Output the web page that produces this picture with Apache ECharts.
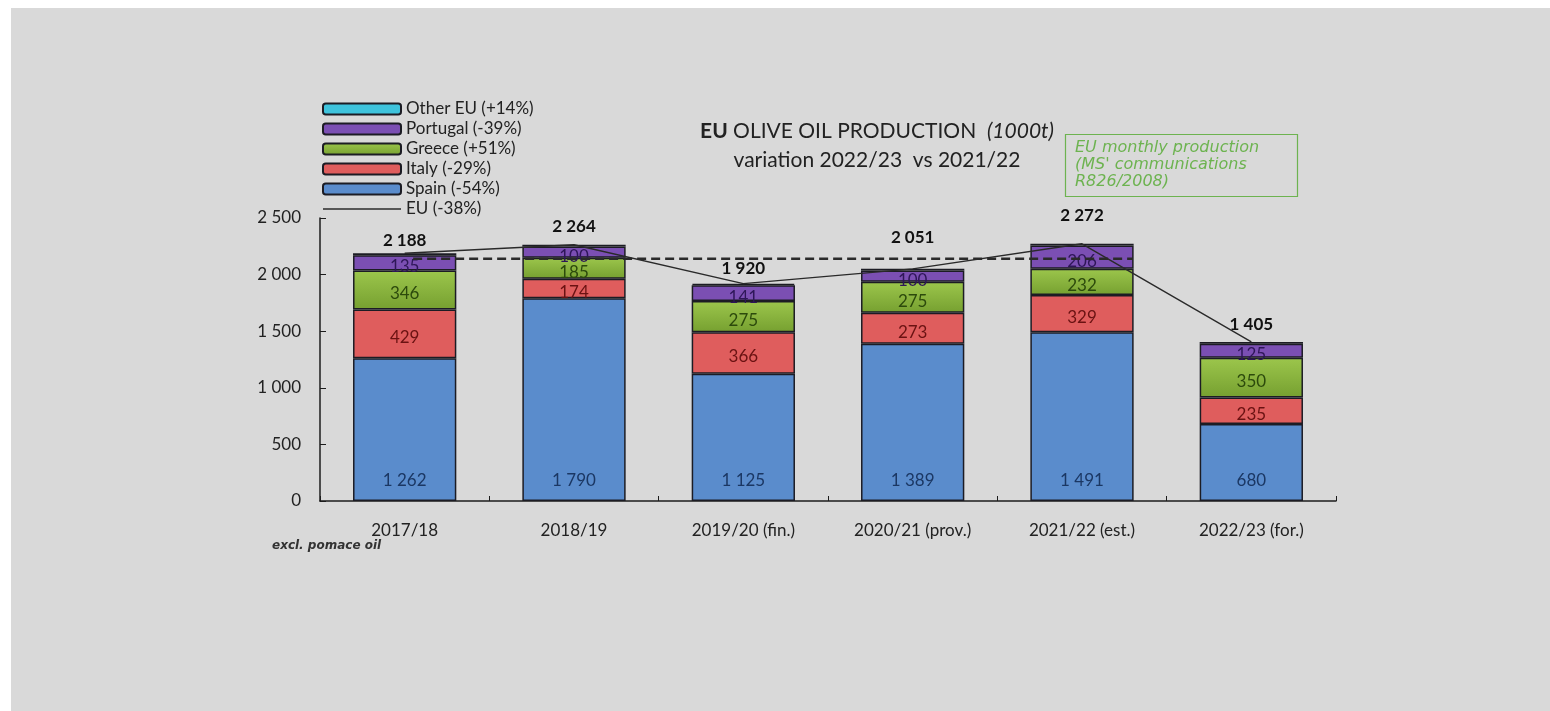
<!DOCTYPE html>
<html>
<head>
<meta charset="utf-8">
<style>
  html, body { margin: 0; padding: 0; background: #ffffff; }
  #chart { width: 1550px; height: 711px; }
</style>
<script src="https://cdn.jsdelivr.net/npm/echarts@6/dist/echarts.min.js"></script>
</head>
<body>
<div id="chart"></div>
<script>
// campaigns on the x axis
var categories = ["2017/18", "2018/19", "2019/20 (fin.)", "2020/21 (prov.)", "2021/22 (est.)", "2022/23 (for.)"];
// 1000t per country
var spain = [1262, 1790, 1125, 1389, 1491, 680];
var italy = [429, 174, 366, 273, 329, 235];
var greece = [346, 185, 275, 275, 232, 350];
var portugal = [135, 100, 141, 100, 206, 125];
var otherEU = [16, 15, 13, 14, 14, 15];
var euTotal = [2188, 2264, 1920, 2051, 2272, 1405];
// dashed reference level (average of the previous five campaigns)
var avgLevel = 2139;
var yTicks = [0, 500, 1000, 1500, 2000, 2500];

var FONT = "Lato";

function fmt(v) {
  return String(v).replace(/\B(?=(\d{3})+(?!\d))/g, " ");
}

// how far each total label sits above its bar (px)
var totalLift = [4, 10, 7, 23, 20, 9];

var myChart = echarts.init(document.getElementById("chart"));

function barSeries(name, data, color, textColor, pos) {
  return {
    name: name,
    type: "bar",
    stack: "eu",
    barWidth: "61%",
    data: data,
    itemStyle: { color: color, borderColor: "#1c1c24", borderWidth: 1.5 },
    label: {
      show: true,
      position: pos || "inside",
      distance: 12,
      offset: pos ? [0, 0] : [0, 4],
      color: textColor,
      fontFamily: FONT,
      fontSize: 17,
      formatter: function (p) { return fmt(p.value); }
    }
  };
}

var greeceFill = new echarts.graphic.LinearGradient(0, 0, 0, 1, [
  { offset: 0, color: "#9cc64c" },
  { offset: 1, color: "#76a030" }
]);

// top slice carries the EU total above the stack
var otherSeries = barSeries("Other EU (+14%)", otherEU.map(function (v, i) {
  return { value: v, label: { distance: totalLift[i] } };
}), "#3ec3dc", "#111111", "top");
otherSeries.label.fontWeight = "bold";
otherSeries.label.fontSize = 17;
otherSeries.label.formatter = function (p) { return fmt(euTotal[p.dataIndex]); };

myChart.setOption({
  backgroundColor: "#ffffff",
  animation: false,
  graphic: [
    { type: "rect", left: 11, top: 8, shape: { width: 1539, height: 703 }, style: { fill: "#d9d9d9" }, z: -10 },
    { type: "rect", left: 1063, top: 132, shape: { width: 232, height: 62 },
      style: { fill: "none", stroke: "#6db350", lineWidth: 1.2 }, z: 5 },
    { type: "text", left: 1075, top: 139,
      style: { text: "EU monthly production\n(MS' communications\nR826/2008)", fill: "#6db350",
        font: "italic 16px 'DejaVu Sans'", lineHeight: 17 }, z: 5 },
    { type: "text", left: 272, top: 540,
      style: { text: "excl. pomace oil", fill: "#333333", font: "italic bold 12px 'DejaVu Sans'" }, z: 5 }
  ],
  title: {
    text: "{b|EU} OLIVE OIL PRODUCTION  {i|(1000t)}\nvariation 2022/23  vs 2021/22",
    left: 872,
    top: 112,
    textAlign: "center",
    textStyle: {
      fontFamily: FONT,
      fontSize: 21,
      fontWeight: "normal",
      color: "#222222",
      lineHeight: 29,
      rich: {
        b: { fontFamily: FONT, fontSize: 21, fontWeight: "bold", color: "#222222" },
        i: { fontFamily: FONT, fontSize: 21, fontStyle: "italic", color: "#222222" }
      }
    }
  },
  legend: {
    orient: "vertical",
    left: 317,
    top: 94,
    itemWidth: 78,
    itemHeight: 11,
    itemGap: 0,
    data: [
      "Other EU (+14%)", "Portugal (-39%)", "Greece (+51%)", "Italy (-29%)", "Spain (-54%)",
      { name: "EU (-38%)", icon: "path://M0,0L78,0L78,1.3L0,1.3Z" }
    ],
    textStyle: { fontFamily: FONT, fontSize: 17, color: "#222222", lineHeight: 20 }
  },
  grid: { left: 320, right: 214, top: 218, bottom: 210 },
  xAxis: [
    {
      type: "category",
      data: categories,
      axisLine: { lineStyle: { color: "#1c1c1c", width: 1.5 } },
      axisTick: { show: true, inside: true, length: 5, lineStyle: { color: "#1c1c1c" } },
      axisLabel: { color: "#222222", fontFamily: FONT, fontSize: 17, margin: 21 }
    },
    { type: "value", min: -0.5, max: 5.5, show: false }
  ],
  yAxis: {
    type: "value",
    min: yTicks[0],
    max: yTicks[yTicks.length - 1],
    interval: 500,
    axisLine: { show: true, onZero: false, lineStyle: { color: "#1c1c1c", width: 1.5 } },
    axisTick: { show: true, inside: true, length: 6, lineStyle: { color: "#1c1c1c" } },
    splitLine: { show: false },
    axisLabel: { color: "#222222", fontFamily: FONT, fontSize: 17, margin: 19, formatter: fmt }
  },
  series: [
    barSeries("Spain (-54%)", spain, "#5a8ccc", "#1b3763", "insideBottom"),
    barSeries("Italy (-29%)", italy, "#df5d5d", "#6a1212"),
    barSeries("Greece (+51%)", greece, greeceFill, "#2c4a0c"),
    barSeries("Portugal (-39%)", portugal, "#7b4fb3", "#2e1658"),
    otherSeries,
    {
      name: "EU (-38%)",
      type: "line",
      data: euTotal,
      symbol: "none",
      z: 6,
      lineStyle: { color: "#2a2a2a", width: 1.4 },
      itemStyle: { color: "#2a2a2a" }
    },
    {
      name: "avg",
      type: "line",
      xAxisIndex: 1,
      data: [[0.05, avgLevel], [4.3, avgLevel]],
      symbol: "none",
      z: 5,
      lineStyle: { color: "#2a2a2a", width: 2.5, type: [9, 5] }
    }
  ]
});
</script>
</body>
</html>
